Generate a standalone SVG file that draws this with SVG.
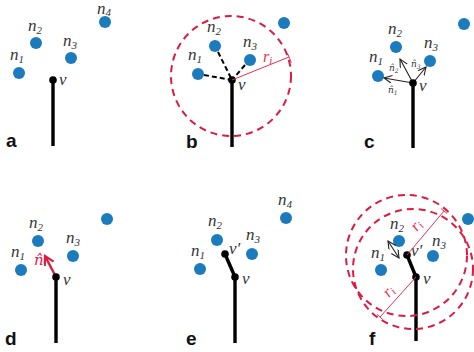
<svg xmlns="http://www.w3.org/2000/svg" width="474" height="352" viewBox="0 0 474 352">
<style>
.dot{fill:#1b7bbd}
.stem{stroke:#000;stroke-width:3.4;fill:none;stroke-linecap:butt}
.vd{fill:#000}
.lbl{font-family:"Liberation Serif","DejaVu Serif",serif;font-style:italic;font-size:17px;fill:#333}
.sub{font-size:11px}
.hat{font-family:"DejaVu Serif",serif;font-style:italic;font-size:9px;fill:#333}
.pl{font-family:"Liberation Sans",Arial,sans-serif;font-weight:bold;font-size:19px;fill:#111}
.rc{fill:none;stroke:#dc1b40;stroke-width:2;stroke-dasharray:7 5}
.rl{stroke:#e8304f;stroke-width:1;fill:none}
.rt{font-family:"Liberation Serif","DejaVu Serif",serif;font-style:italic;font-size:16px;fill:#e8304f}
.dash{stroke:#000;stroke-width:2;stroke-dasharray:5 3;fill:none}
.ar{stroke:#222;stroke-width:1.1;fill:none}
</style>
<defs>
<marker id="ah" markerUnits="userSpaceOnUse" markerWidth="10" markerHeight="10" refX="8" refY="4" orient="auto-start-reverse">
<path d="M0,0 L8,4 L0,8" fill="none" stroke="#222" stroke-width="1.1"/>
</marker>
<marker id="ahr" markerUnits="userSpaceOnUse" markerWidth="12" markerHeight="12" refX="9" refY="5" orient="auto">
<path d="M0,0 L9,5 L0,10" fill="none" stroke="#dc1b40" stroke-width="2.2"/>
</marker>
</defs>

<!-- Panel a -->
<g id="panel-a">
<line class="stem" x1="53" y1="80" x2="53" y2="146"/>
<g id="a-n1"><circle class="dot" cx="19" cy="73" r="6"/><text class="lbl" x="10" y="60">n<tspan class="sub" dy="3">1</tspan></text></g>
<g id="a-n2"><circle class="dot" cx="36" cy="43" r="6"/><text class="lbl" x="28" y="31">n<tspan class="sub" dy="3">2</tspan></text></g>
<g id="a-n3"><circle class="dot" cx="71" cy="58" r="6"/><text class="lbl" x="63" y="46">n<tspan class="sub" dy="3">3</tspan></text></g>
<g id="a-n4"><circle class="dot" cx="105" cy="22" r="6"/><text class="lbl" x="97" y="14">n<tspan class="sub" dy="2">4</tspan></text></g>
<g id="a-v"><circle class="vd" cx="53" cy="80" r="3.8"/><text class="lbl" x="59" y="85">v</text></g>
<text class="pl" x="6" y="147">a</text>
</g>

<!-- Panel b -->
<g id="panel-b">
<line class="stem" x1="232" y1="80" x2="232" y2="147"/>
<g id="b-connectors">
<line class="dash" x1="204" y1="75" x2="232" y2="80"/>
<line class="dash" x1="218" y1="52" x2="232" y2="80"/>
<line class="dash" x1="245" y1="65" x2="232" y2="80"/>
</g>
<g id="b-n1"><circle class="dot" cx="198" cy="74" r="6"/><text class="lbl" x="188" y="60">n<tspan class="sub" dy="3">1</tspan></text></g>
<g id="b-n2"><circle class="dot" cx="215" cy="46" r="6"/><text class="lbl" x="207" y="32">n<tspan class="sub" dy="3">2</tspan></text></g>
<g id="b-n3"><circle class="dot" cx="250" cy="60" r="6"/><text class="lbl" x="243" y="47">n<tspan class="sub" dy="3">3</tspan></text></g>
<g id="b-n4"><circle class="dot" cx="284" cy="23" r="6"/></g>
<g id="b-v"><circle class="vd" cx="232" cy="80" r="3.8"/><text class="lbl" x="238" y="90">v</text></g>
<circle class="rc" cx="231" cy="76" r="60"/>
<line class="rl" x1="232" y1="80" x2="289" y2="57"/>
<line class="rl" x1="287.5" y1="53.3" x2="291.3" y2="62.6"/>
<text class="rt" x="263" y="62">r<tspan class="sub" dy="2">i</tspan></text>
<text class="pl" x="186" y="148">b</text>
</g>

<!-- Panel c -->
<g id="panel-c">
<line class="stem" x1="413" y1="83" x2="413" y2="148"/>
<g id="c-n1"><circle class="dot" cx="378" cy="76" r="6"/><text class="lbl" x="369" y="62">n<tspan class="sub" dy="3">1</tspan></text></g>
<g id="c-n2"><circle class="dot" cx="396" cy="47" r="6"/><text class="lbl" x="388" y="34">n<tspan class="sub" dy="3">2</tspan></text></g>
<g id="c-n3"><circle class="dot" cx="430" cy="61" r="6"/><text class="lbl" x="424" y="48">n<tspan class="sub" dy="3">3</tspan></text></g>
<g id="c-n4"><circle class="dot" cx="464" cy="24" r="6"/></g>
<g id="c-arrows">
<line class="ar" x1="413" y1="83" x2="384" y2="78" marker-end="url(#ah)"/>
<line class="ar" x1="413" y1="83" x2="400" y2="59" marker-end="url(#ah)"/>
<line class="ar" x1="413" y1="83" x2="426" y2="67" marker-end="url(#ah)"/>
</g>
<text class="hat" x="388" y="93">n̂<tspan font-size="6" dy="1.5">1</tspan></text>
<text class="hat" x="389" y="71">n̂<tspan font-size="6" dy="1.5">2</tspan></text>
<text class="hat" x="411" y="67">n̂<tspan font-size="6" dy="1.5">3</tspan></text>
<g id="c-v"><circle class="vd" cx="413" cy="83" r="3.8"/><text class="lbl" x="419" y="91">v</text></g>
<text class="pl" x="364" y="148">c</text>
</g>

<!-- Panel d -->
<g id="panel-d">
<line class="stem" x1="56" y1="277" x2="56" y2="343"/>
<g id="d-n1"><circle class="dot" cx="21" cy="270" r="6"/><text class="lbl" x="11" y="257">n<tspan class="sub" dy="3">1</tspan></text></g>
<g id="d-n2"><circle class="dot" cx="38" cy="241" r="6"/><text class="lbl" x="29" y="228">n<tspan class="sub" dy="3">2</tspan></text></g>
<g id="d-n3"><circle class="dot" cx="73" cy="256" r="6"/><text class="lbl" x="66" y="243">n<tspan class="sub" dy="3">3</tspan></text></g>
<g id="d-n4"><circle class="dot" cx="107" cy="219" r="6"/></g>
<line x1="56" y1="277" x2="45" y2="256" stroke="#dc1b40" stroke-width="2.4" marker-end="url(#ahr)"/>
<text x="34" y="265" font-family="DejaVu Serif,serif" font-style="italic" font-size="15" fill="#dc1b40">n̂</text>
<g id="d-v"><circle class="vd" cx="56" cy="277" r="3.8"/><text class="lbl" x="63" y="285">v</text></g>
<text class="pl" x="5" y="345">d</text>
</g>

<!-- Panel e -->
<g id="panel-e">
<line class="stem" x1="235" y1="277" x2="235" y2="343"/>
<line class="stem" x1="225" y1="254" x2="235" y2="277" stroke-width="3.8"/>
<g id="e-n1"><circle class="dot" cx="200" cy="269" r="6"/><text class="lbl" x="191" y="256">n<tspan class="sub" dy="3">1</tspan></text></g>
<g id="e-n2"><circle class="dot" cx="217" cy="240" r="6"/><text class="lbl" x="208" y="226">n<tspan class="sub" dy="3">2</tspan></text></g>
<g id="e-n3"><circle class="dot" cx="252" cy="254" r="6"/><text class="lbl" x="246" y="240">n<tspan class="sub" dy="3">3</tspan></text></g>
<g id="e-n4"><circle class="dot" cx="286" cy="218" r="6"/><text class="lbl" x="278" y="205">n<tspan class="sub" dy="3">4</tspan></text></g>
<g id="e-vp"><circle class="vd" cx="225" cy="254" r="3.8"/><text class="lbl" x="229" y="254">v′</text></g>
<g id="e-v"><circle class="vd" cx="235" cy="277" r="3.8"/><text class="lbl" x="242" y="284">v</text></g>
<text class="pl" x="186" y="345">e</text>
</g>

<!-- Panel f -->
<g id="panel-f">
<line class="stem" x1="416" y1="277" x2="416" y2="341"/>
<line class="stem" x1="407" y1="255" x2="416" y2="277" stroke-width="3.8"/>
<g id="f-n1"><circle class="dot" cx="381" cy="270" r="6"/><text class="lbl" x="371" y="258">n<tspan class="sub" dy="3">1</tspan></text></g>
<g id="f-n2"><circle class="dot" cx="399" cy="241" r="6"/><text class="lbl" x="390" y="229">n<tspan class="sub" dy="3">2</tspan></text></g>
<g id="f-n3"><circle class="dot" cx="433" cy="256" r="6"/><text class="lbl" x="432" y="246">n<tspan class="sub" dy="3">3</tspan></text></g>
<g id="f-n4"><circle class="dot" cx="468" cy="219" r="6"/></g>
<line class="ar" x1="388" y1="241" x2="399" y2="258" marker-start="url(#ah)" marker-end="url(#ah)"/>
<g id="f-vp"><circle class="vd" cx="407" cy="255" r="3.8"/><text class="lbl" x="411" y="256">v′</text></g>
<g id="f-v"><circle class="vd" cx="416" cy="277" r="3.8"/><text class="lbl" x="423" y="284">v</text></g>
<circle class="rc" cx="406.5" cy="255.5" r="60.5"/>
<circle class="rc" cx="413" cy="269" r="60"/>
<line class="rl" x1="407" y1="255" x2="444" y2="211"/>
<line class="rl" x1="440.9" y1="208.4" x2="447.1" y2="213.6"/>
<line class="rl" x1="416" y1="277" x2="380" y2="317"/>
<line class="rl" x1="377" y1="314.3" x2="383" y2="319.7"/>
<text class="rt" transform="translate(417,232) rotate(-50)">r<tspan class="sub" dy="2">i</tspan></text>
<text class="rt" transform="translate(389,298) rotate(-48)">r<tspan class="sub" dy="2">i</tspan></text>
<text class="pl" x="369" y="345" font-weight="normal">f</text>
</g>
</svg>
